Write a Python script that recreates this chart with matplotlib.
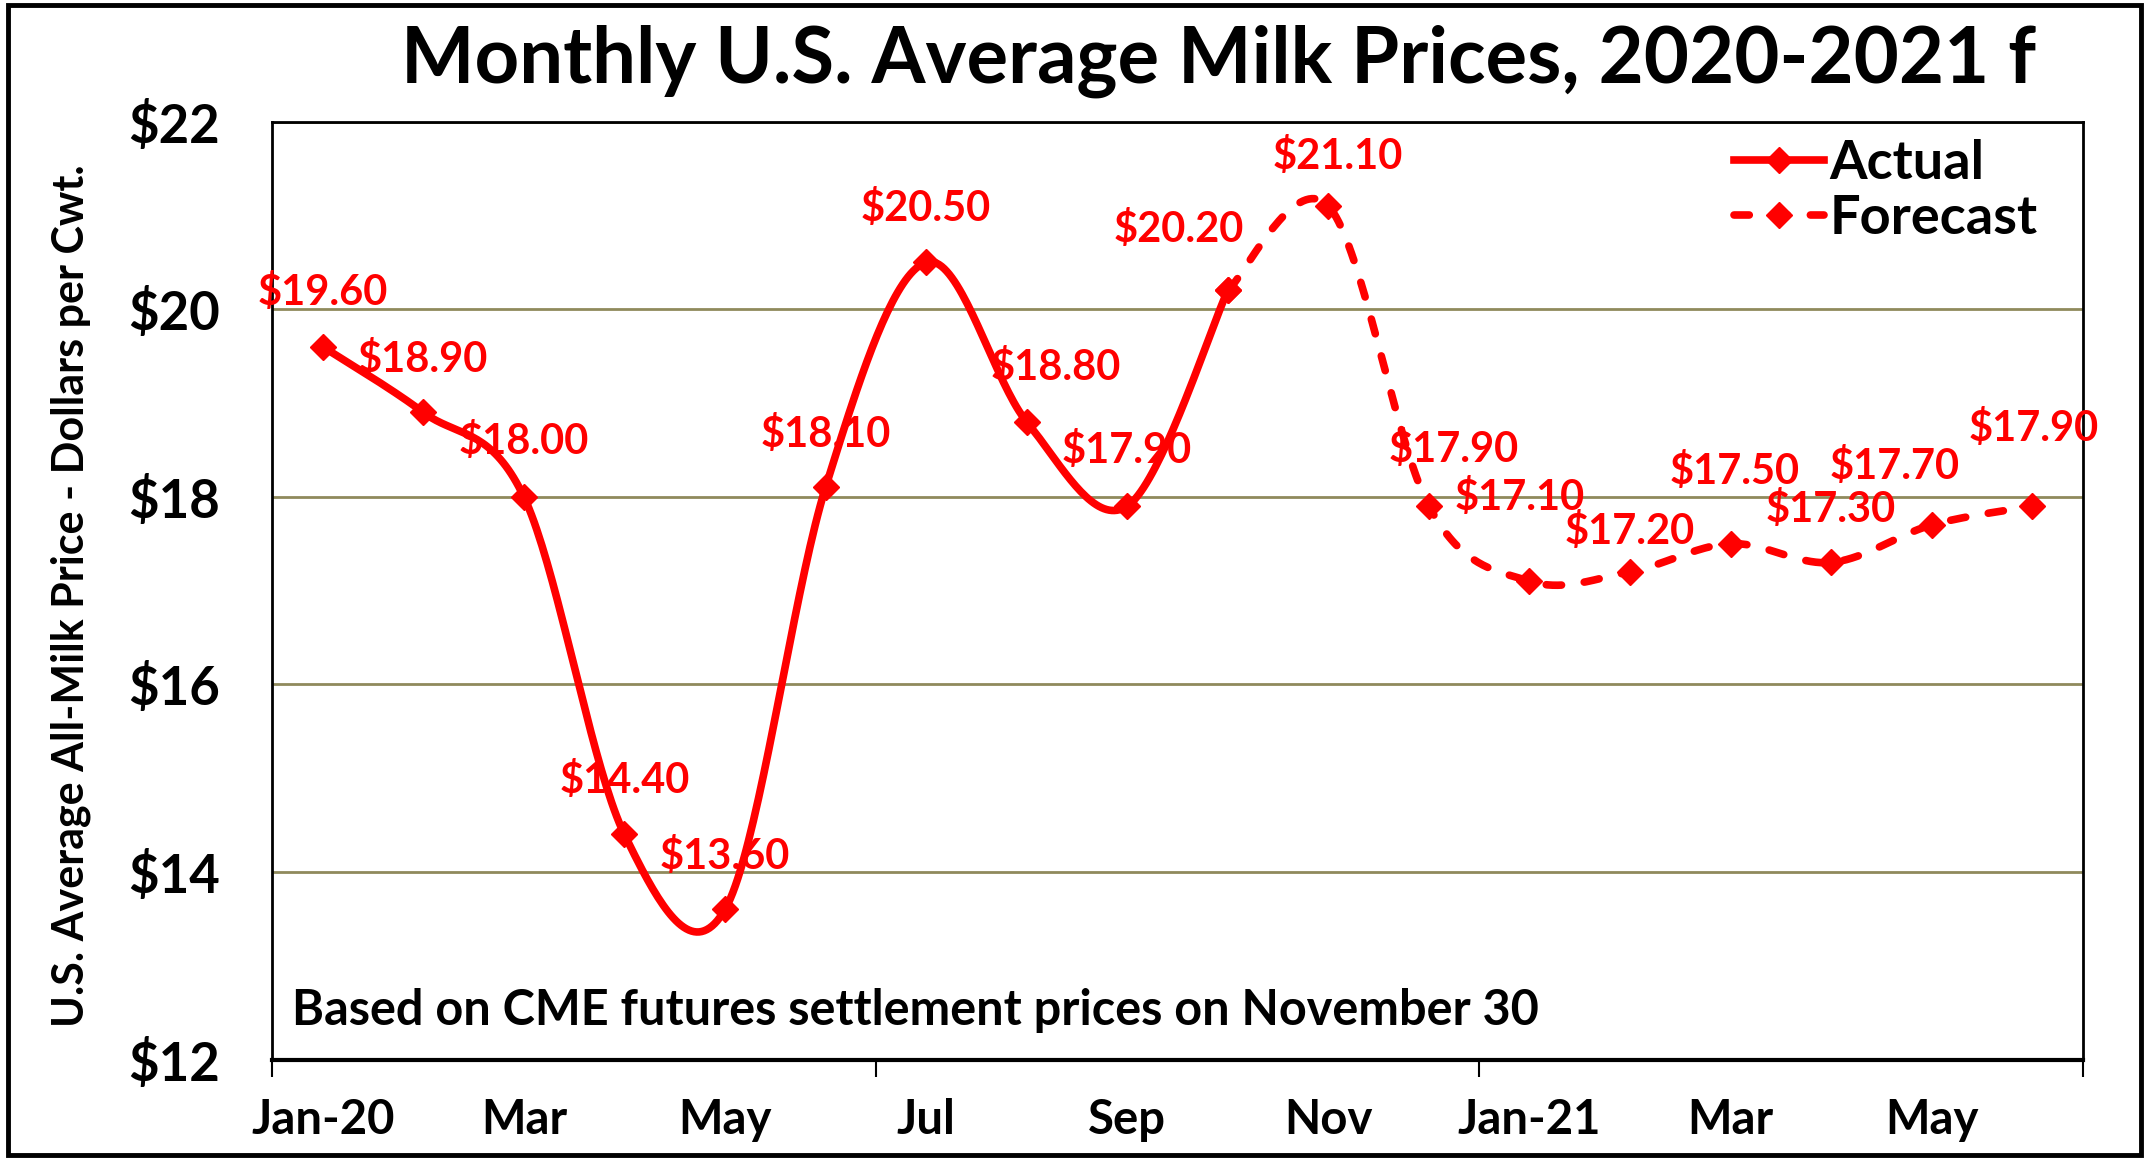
import numpy as np
import matplotlib
matplotlib.use("Agg")
import matplotlib.pyplot as plt
from matplotlib.patches import Rectangle
from matplotlib.lines import Line2D

plt.rcParams['font.family'] = ['Lato', 'DejaVu Sans']
plt.rcParams['font.weight'] = 'bold'

months = ['Jan-20', 'Feb', 'Mar', 'Apr', 'May', 'Jun', 'Jul', 'Aug', 'Sep',
          'Oct', 'Nov', 'Dec', 'Jan-21', 'Feb', 'Mar', 'Apr', 'May', 'Jun']
actual = [19.60, 18.90, 18.00, 14.40, 13.60, 18.10, 20.50, 18.80, 17.90, 20.20]
forecast = [20.20, 21.10, 17.90, 17.10, 17.20, 17.50, 17.30, 17.70, 17.90]
forecast_start = 9  # Oct-20

# label offsets in points (dx, dy)
actual_offsets = [(0, 39), (0, 38), (0, 40), (0, 39), (0, 38), (0, 38),
                  (0, 39), (21, 39), (0, 40), (-35, 44)]
forecast_offsets = [None, (7, 36), (18, 41), (-7, 60), (0, 29), (3, 52),
                    (0, 38), (-27, 42), (1, 56)]

RED = '#FF0000'
GRID = '#8F8A5C'

fig = plt.figure(figsize=(21.47, 11.58), dpi=100)
ax = fig.add_axes([0.1269, 0.085, 0.8431, 0.81])
ax.set_xlim(-0.5, len(months) - 0.5)
ax.set_ylim(12, 22)


def smooth(xs, ys, n=40):
    # Catmull-Rom in pixel space, like a spreadsheet's smoothed line
    pts = ax.transData.transform(np.column_stack([xs, ys]))
    pts = np.vstack([pts[0], pts, pts[-1]])
    out = []
    for i in range(1, len(pts) - 2):
        p0, p1, p2, p3 = pts[i - 1], pts[i], pts[i + 1], pts[i + 2]
        c1 = p1 + (p2 - p0) / 6
        c2 = p2 - (p3 - p1) / 6
        t = np.linspace(0, 1, n)[:, None]
        seg = ((1 - t) ** 3) * p1 + 3 * ((1 - t) ** 2) * t * c1 \
            + 3 * (1 - t) * t ** 2 * c2 + t ** 3 * p2
        out.append(seg if i == 1 else seg[1:])
    out = np.vstack(out)
    return ax.transData.inverted().transform(out).T


xa = np.arange(len(actual))
xf = np.arange(forecast_start, forecast_start + len(forecast))

sx, sy = smooth(xa, actual)
ax.plot(sx, sy, color=RED, lw=5.5, solid_capstyle='round', zorder=3)
sx, sy = smooth(xf, forecast)
ax.plot(sx, sy, color=RED, lw=5.5, ls=(0, (2, 3)), dash_capstyle='round', zorder=3)
ax.plot(xa, actual, ls='none', marker='D', ms=13, color=RED, zorder=4)
ax.plot(xf, forecast, ls='none', marker='D', ms=13, color=RED, zorder=4)

for x, v, off in zip(xa, actual, actual_offsets):
    ax.annotate(f'${v:.2f}', (x, v), xytext=off, textcoords='offset points',
                ha='center', va='center', color=RED, fontsize=30, fontweight='bold',
                zorder=5)
for x, v, off in zip(xf, forecast, forecast_offsets):
    if off is None:
        continue
    ax.annotate(f'${v:.2f}', (x, v), xytext=off, textcoords='offset points',
                ha='center', va='center', color=RED, fontsize=30, fontweight='bold',
                zorder=5)

ax.set_yticks([12, 14, 16, 18, 20, 22])
ax.set_yticklabels(['$12', '$14', '$16', '$18', '$20', '$22'])
ax.yaxis.grid(True, color=GRID, lw=2)
ax.set_axisbelow(True)
ax.tick_params(axis='y', length=0, pad=38, labelsize=38)

ax.set_xticks(np.arange(0, len(months), 2))
ax.set_xticklabels(months[::2])
ax.set_xticks([-0.5, 5.5, 11.5, 17.5], minor=True)
ax.tick_params(axis='x', which='major', length=0, pad=28, labelsize=34)
ax.tick_params(axis='x', which='minor', length=12, width=1.5, direction='out')

for s in ax.spines.values():
    s.set_color('black')
    s.set_linewidth(2)
ax.spines['bottom'].set_linewidth(3)

handles = [Line2D([], [], color=RED, lw=5.5, marker='D', ms=13),
           Line2D([], [], color=RED, lw=5.5, ls=(0, (2, 3)), dash_capstyle='round',
                  marker='D', ms=13)]
ax.legend(handles, ['Actual', 'Forecast'], loc='upper right', frameon=False,
          fontsize=39, handlelength=1.65, handletextpad=0.1, labelspacing=0.12,
          borderaxespad=0.0, bbox_to_anchor=(0.987, 1.005))

ax.text(0.011, 0.052, 'Based on CME futures settlement prices on November 30',
        transform=ax.transAxes, fontsize=35, fontweight='bold', va='center')

fig.text(0.5676, 0.947, 'Monthly U.S. Average Milk Prices, 2020-2021 f',
         ha='center', va='center', fontsize=56, fontweight='bold')
fig.text(0.033, 0.486, 'U.S. Average All-Milk Price - Dollars per Cwt.',
         rotation=90, ha='center', va='center', fontsize=31, fontweight='bold')

fig.add_artist(Rectangle((0.0035, 0.003), 0.9935, 0.993, transform=fig.transFigure,
                         fill=False, ec='black', lw=3.5))

fig.savefig('out.png', dpi=100)
